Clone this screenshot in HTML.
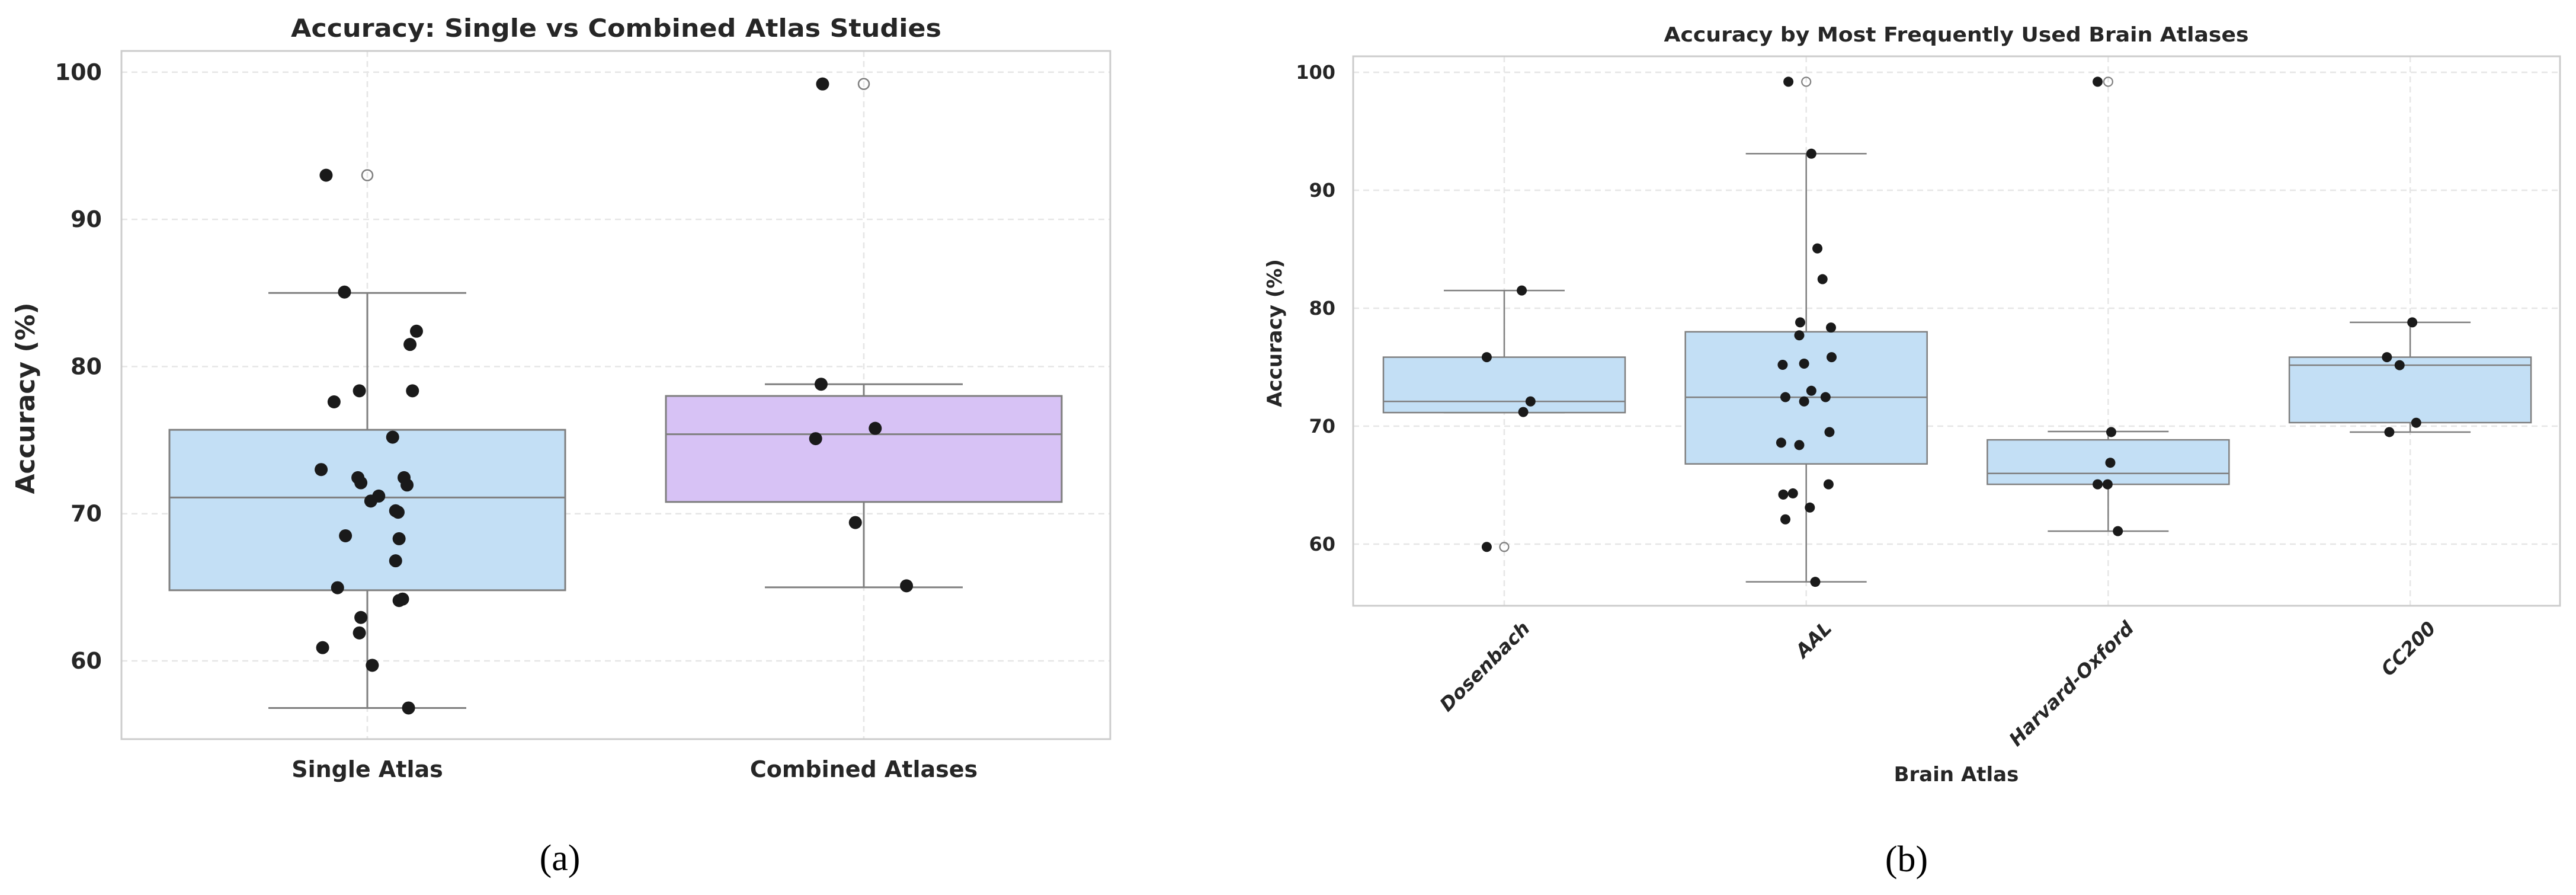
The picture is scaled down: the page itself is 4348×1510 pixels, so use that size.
<!DOCTYPE html>
<html><head><meta charset="utf-8"><style>
html,body{margin:0;padding:0;background:#fff;}
svg{display:block;font-family:"DejaVu Sans","Liberation Sans",sans-serif;}
</style></head><body>
<svg id="fig" width="4348" height="1510" viewBox="0 0 4348 1510" xmlns="http://www.w3.org/2000/svg"></svg>
<script>
// ---------- Panel (a) data ----------
const catsA = ["Single Atlas", "Combined Atlases"];
const boxColorsA = ["#c3dff5", "#d7c2f5"];
const q1A = [64.8, 70.8];
const medA = [71.1, 75.4];
const q3A = [75.7, 78.0];
const whiskLoA = [56.8, 65.0];
const whiskHiA = [85.0, 78.8];
const fliersA = [[93.0], [99.2]];
const pointsSingle = [93.0,85.06,82.4,81.5,78.35,78.35,77.6,75.2,73.0,72.45,72.45,72.1,71.95,71.2,70.86,70.2,70.1,68.5,68.3,66.8,64.97,64.2,64.1,62.95,61.9,60.9,59.7,56.8];
const jitterSingle = [-0.083,-0.046,0.099,0.086,-0.016,0.091,-0.067,0.051,-0.093,-0.019,0.074,-0.013,0.080,0.023,0.007,0.057,0.062,-0.044,0.064,0.057,-0.060,0.071,0.064,-0.013,-0.016,-0.090,0.010,0.083];
const pointsCombined = [99.2,78.8,75.8,75.1,69.4,65.1];
const jitterCombined = [-0.083,-0.086,0.023,-0.097,-0.017,0.086];
const ticksA = [60,70,80,90,100];

// ---------- Panel (b) data ----------
const catsB = ["Dosenbach","AAL","Harvard-Oxford","CC200"];
const q1B = [71.15, 66.8, 65.07, 70.3];
const medB = [72.1, 72.45, 65.99, 75.17];
const q3B = [75.85, 78.0, 68.84, 75.85];
const whiskLoB = [71.15, 56.8, 61.1, 69.5];
const whiskHiB = [81.5, 93.1, 69.55, 78.8];
const fliersB = [[59.76],[99.2],[99.2],[]];
const pointsB = [
 [75.85,72.1,71.2,81.5,59.76],
 [99.2,93.1,85.07,82.46,78.8,78.36,77.7,75.85,75.2,75.3,73.0,72.46,72.46,72.1,69.5,68.6,68.4,65.07,64.3,64.2,63.1,62.1,56.8],
 [99.2,69.5,66.9,65.07,65.07,61.1],
 [78.8,75.85,75.17,70.29,69.5]
];
const jitterB = [
 [-0.058,0.087,0.063,0.058,-0.058],
 [-0.059,0.017,0.037,0.054,-0.020,0.082,-0.023,0.084,-0.078,-0.007,0.017,-0.069,0.064,-0.007,0.077,-0.083,-0.023,0.074,-0.044,-0.076,0.012,-0.069,0.030],
 [-0.035,0.010,0.007,-0.035,-0.002,0.032],
 [0.007,-0.077,-0.035,0.020,-0.069]
];
const ticksB = [60,70,80,90,100];

const NS="http://www.w3.org/2000/svg";
const svg=document.getElementById('fig');
function mk(tag,attrs,parent){const e=document.createElementNS(NS,tag);for(const k in attrs)e.setAttribute(k,attrs[k]);(parent||svg).appendChild(e);return e;}

// ---------- Panel A ----------
(function(){
 const L=205,R=1874,T=86,B=1247;
 const g=mk('g',{});
 
 
 const y=v=>1115-(v-60)*24.83;
 const x=i=>620+i*838;
 const band=838;
 ticksA.forEach(t=>{
  const gl=mk('line',{x1:L,x2:R,y1:y(t),y2:y(t),stroke:'#e6e6e6','stroke-width':2.5,'stroke-dasharray':'10,7'},g);
  
  
  const tl=mk('text',{x:172,y:y(t)+13,'text-anchor':'end','font-size':38,'font-weight':'bold',fill:'#262626'},g);
  tl.textContent=t;
  
  
 });
 catsA.forEach((c,i)=>{
  const gl=mk('line',{x1:x(i),x2:x(i),y1:T,y2:B,stroke:'#e6e6e6','stroke-width':2.5,'stroke-dasharray':'10,7'},g);
  
  
 });
 const fr=mk('rect',{x:L,y:T,width:R-L,height:B-T,fill:'none',stroke:'#cccccc','stroke-width':3},g);
 
 
 catsA.forEach((c,i)=>{
  const cx=x(i),hw=334,cap=167;
  const w1=mk('line',{x1:cx,x2:cx,y1:y(whiskHiA[i]),y2:y(q3A[i]),stroke:'#7f7f7f','stroke-width':3},g);
  
  
  const w2=mk('line',{x1:cx,x2:cx,y1:y(q1A[i]),y2:y(whiskLoA[i]),stroke:'#7f7f7f','stroke-width':3},g);
  
  
  const c1=mk('line',{x1:cx-cap,x2:cx+cap,y1:y(whiskHiA[i]),y2:y(whiskHiA[i]),stroke:'#7f7f7f','stroke-width':3},g);
  
  
  const c2=mk('line',{x1:cx-cap,x2:cx+cap,y1:y(whiskLoA[i]),y2:y(whiskLoA[i]),stroke:'#7f7f7f','stroke-width':3},g);
  
  
  const bx=mk('rect',{x:cx-hw,y:y(q3A[i]),width:2*hw,height:y(q1A[i])-y(q3A[i]),fill:boxColorsA[i],stroke:'#7f7f7f','stroke-width':3},g);
  
  
  const md=mk('line',{x1:cx-hw,x2:cx+hw,y1:y(medA[i]),y2:y(medA[i]),stroke:'#7f7f7f','stroke-width':3},g);
  
  
  fliersA[i].forEach(f=>{
   const fc=mk('circle',{cx:cx,cy:y(f),r:9,fill:'none',stroke:'#7f7f7f','stroke-width':2.5},g);
   
   
  });
  const lb=mk('text',{x:cx,y:1311,'text-anchor':'middle','font-size':38,'font-weight':'bold',fill:'#262626'},g);
  lb.textContent=c;
  
  
 });
 const pts=[pointsSingle,pointsCombined], jit=[jitterSingle,jitterCombined];
 pts.forEach((arr,i)=>arr.forEach((v,k)=>{
  const p=mk('circle',{cx:x(i)+jit[i][k]*band,cy:y(v),r:11,fill:'#1a1a1a'},g);
  
  
 }));
 const tt=mk('text',{x:1040,y:62,'text-anchor':'middle','font-size':42,'font-weight':'bold',fill:'#262626',textLength:1098,lengthAdjust:'spacingAndGlyphs'},g);
 tt.textContent='Accuracy: Single vs Combined Atlas Studies';
 
 
 const yt=mk('text',{x:0,y:0,'text-anchor':'middle','font-size':44,'font-weight':'bold',fill:'#262626',transform:'translate(58,672) rotate(-90)'},g);
 yt.textContent='Accuracy (%)';
 
 
 const cap=mk('text',{x:945,y:1468,'text-anchor':'middle','font-size':62,fill:'#000','font-family':'"Liberation Serif",serif'},g);
 cap.textContent='(a)';
 
 
})();

// ---------- Panel B ----------
(function(){
 const L=2284,R=4321,T=95,B=1022;
 const g=mk('g',{});
 
 
 const y=v=>918-(v-60)*19.9;
 const x=i=>2539+i*509.7;
 const band=509.7;
 ticksB.forEach(t=>{
  const gl=mk('line',{x1:L,x2:R,y1:y(t),y2:y(t),stroke:'#e6e6e6','stroke-width':2.5,'stroke-dasharray':'10,7'},g);
  
  
  const tl=mk('text',{x:2254,y:y(t)+11,'text-anchor':'end','font-size':32,'font-weight':'bold',fill:'#262626'},g);
  tl.textContent=t;
  
  
 });
 catsB.forEach((c,i)=>{
  const gl=mk('line',{x1:x(i),x2:x(i),y1:T,y2:B,stroke:'#e6e6e6','stroke-width':2.5,'stroke-dasharray':'10,7'},g);
  
  
 });
 const fr=mk('rect',{x:L,y:T,width:R-L,height:B-T,fill:'none',stroke:'#cccccc','stroke-width':3},g);
 
 
 catsB.forEach((c,i)=>{
  const cx=x(i),hw=204,cap=102;
  const w1=mk('line',{x1:cx,x2:cx,y1:y(whiskHiB[i]),y2:y(q3B[i]),stroke:'#7f7f7f','stroke-width':2.5},g);
  
  
  const w2=mk('line',{x1:cx,x2:cx,y1:y(q1B[i]),y2:y(whiskLoB[i]),stroke:'#7f7f7f','stroke-width':2.5},g);
  
  
  const c1=mk('line',{x1:cx-cap,x2:cx+cap,y1:y(whiskHiB[i]),y2:y(whiskHiB[i]),stroke:'#7f7f7f','stroke-width':2.5},g);
  
  
  const c2=mk('line',{x1:cx-cap,x2:cx+cap,y1:y(whiskLoB[i]),y2:y(whiskLoB[i]),stroke:'#7f7f7f','stroke-width':2.5},g);
  
  
  const bx=mk('rect',{x:cx-hw,y:y(q3B[i]),width:2*hw,height:y(q1B[i])-y(q3B[i]),fill:'#c3dff5',stroke:'#7f7f7f','stroke-width':2.5},g);
  
  
  const md=mk('line',{x1:cx-hw,x2:cx+hw,y1:y(medB[i]),y2:y(medB[i]),stroke:'#7f7f7f','stroke-width':2.5},g);
  
  
  fliersB[i].forEach(f=>{
   const fc=mk('circle',{cx:cx,cy:y(f),r:7.5,fill:'none',stroke:'#7f7f7f','stroke-width':2.2},g);
   
   
  });
  const lb=mk('text',{x:0,y:0,'text-anchor':'end','font-size':32,'font-weight':'bold','font-style':'italic',fill:'#262626',transform:'translate('+(cx+45)+',1062) rotate(-45)'},g);
  lb.textContent=c;
  
  
 });
 pointsB.forEach((arr,i)=>arr.forEach((v,k)=>{
  const p=mk('circle',{cx:x(i)+jitterB[i][k]*band,cy:y(v),r:8.5,fill:'#1a1a1a'},g);
  
  
 }));
 const tt=mk('text',{x:3302,y:70,'text-anchor':'middle','font-size':34,'font-weight':'bold',fill:'#262626',textLength:987,lengthAdjust:'spacingAndGlyphs'},g);
 tt.textContent='Accuracy by Most Frequently Used Brain Atlases';
 
 
 const yt=mk('text',{x:0,y:0,'text-anchor':'middle','font-size':34,'font-weight':'bold',fill:'#262626',transform:'translate(2163,562) rotate(-90)'},g);
 yt.textContent='Accuracy (%)';
 
 
 const xt=mk('text',{x:3302,y:1318,'text-anchor':'middle','font-size':34,'font-weight':'bold',fill:'#262626'},g);
 xt.textContent='Brain Atlas';
 
 
 const cap=mk('text',{x:3218,y:1470,'text-anchor':'middle','font-size':62,fill:'#000','font-family':'"Liberation Serif",serif'},g);
 cap.textContent='(b)';
 
 
})();
</script>
</body></html>
